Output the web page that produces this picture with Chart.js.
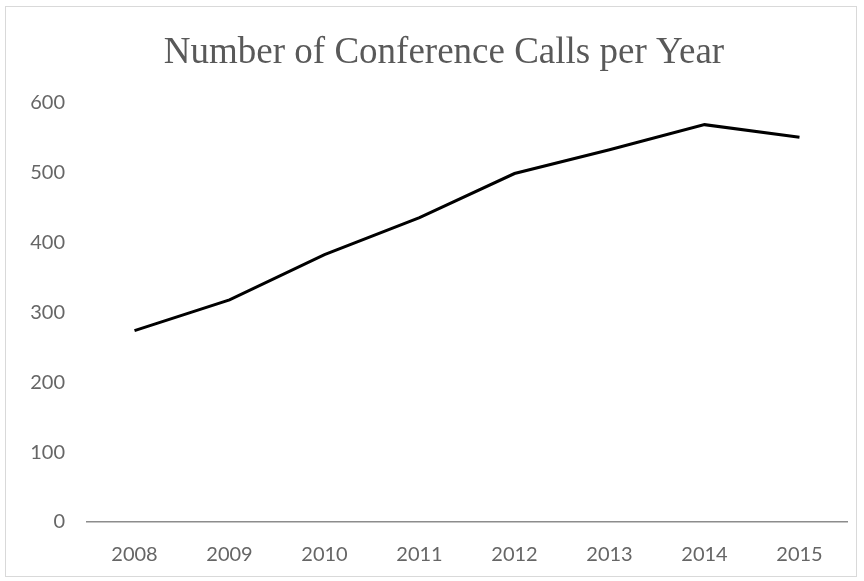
<!DOCTYPE html>
<html>
<head>
<meta charset="utf-8">
<script src="https://cdn.jsdelivr.net/npm/chart.js@4/dist/chart.umd.min.js"></script>
<style>
  body { margin: 0; background: #fff; }
  #frame {
    position: absolute; left: 5px; top: 6px; width: 852px; height: 571px;
    border: 1px solid #d9d9d9; box-sizing: border-box;
  }
  #wrap { position: absolute; left: 0; top: 0; width: 864px; height: 581px; }
</style>
</head>
<body>
<div id="frame"></div>
<div id="wrap"><canvas id="chart"></canvas></div>
<script>
// chart data
const years = ['2008', '2009', '2010', '2011', '2012', '2013', '2014', '2015'];
const calls = [274, 318, 383, 436, 499, 533, 569, 551];
const yTicks = [0, 100, 200, 300, 400, 500, 600];
const chartTitle = 'Number of Conference Calls per Year';

const tickFont = { family: 'Lato, "Open Sans", sans-serif', size: 20 };

// title sits a bit left of the plot centre, like the original
const titlePlugin = {
    id: 'centeredTitle',
    afterDraw(chart) {
        const c = chart.ctx;
        c.save();
        c.font = '37px "Liberation Serif", "Times New Roman", serif';
        c.fillStyle = '#595959';
        c.textAlign = 'center';
        c.textBaseline = 'alphabetic';
        c.fillText(chartTitle, 444, 63);
        c.restore();
    }
};

const ctx = document.getElementById('chart').getContext('2d');

new Chart(ctx, {
    type: 'line',
    data: {
        labels: years,
        datasets: [{
            label: 'Calls',
            data: calls,
            borderColor: '#000000',
            borderWidth: 3,
            pointRadius: 0,
            tension: 0,
            fill: false
        }]
    },
    options: {
        responsive: true,
        maintainAspectRatio: false,
        animation: false,
        layout: { padding: { left: 0, right: 17, top: 103, bottom: 0 } },
        plugins: {
            legend: { display: false },
            tooltip: { enabled: false },
            title: { display: false }
        },
        scales: {
            x: {
                offset: true,
                grid: { display: false, drawTicks: false },
                border: { display: true, color: '#8c8c8c', width: 1.5 },
                ticks: { color: '#666666', font: tickFont, padding: 21 },
                afterFit: (scale) => { scale.height = 59; }
            },
            y: {
                min: 0,
                max: 600,
                afterBuildTicks: (scale) => { scale.ticks = yTicks.map(v => ({ value: v })); },
                grid: { display: false, drawTicks: false },
                border: { display: false },
                ticks: { color: '#666666', font: tickFont, padding: 22 },
                afterFit: (scale) => { scale.width = 87; }
            }
        }
    },
    plugins: [titlePlugin]
});
</script>
</body>
</html>
